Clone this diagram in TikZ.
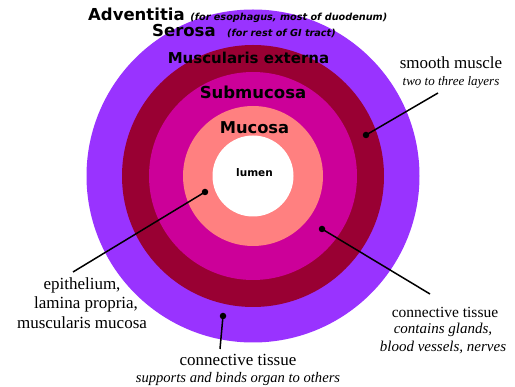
\documentclass[tikz,border=0pt]{standalone}
\usepackage{fontspec}
\setmainfont{Liberation Serif}
\newfontfamily\hdfont{DejaVu Sans}
\definecolor{advcol}{RGB}{153,51,255}
\definecolor{muscol}{RGB}{153,0,51}
\definecolor{subcol}{RGB}{204,0,153}
\definecolor{muccol}{RGB}{255,128,128}
\tikzset{
  lead/.style={line width=1.5pt, black},
  dotmark/.style={circle, fill=black, inner sep=0pt, minimum size=6.5pt},
  layerlabel/.style={inner sep=0pt, font=\hdfont\bfseries},
  serif/.style={inner sep=0pt},
}
\newcommand{\fs}[1]{\fontsize{#1}{#1}\selectfont}
\begin{document}
\begin{tikzpicture}[x=1pt,y=-1pt]
\useasboundingbox[fill=white] (0,0) rectangle (515,387);
\coordinate (C) at (253,176);
\fill[advcol] (C) circle[radius=166.5pt];
\fill[muscol] (C) circle[radius=131pt];
\fill[subcol] (C) circle[radius=104pt];
\fill[muccol] (C) circle[radius=70pt];
\fill[white] (C) circle[radius=40.5pt];

% layer labels
\node[layerlabel, anchor=base west] (adv) at (88,21) {\fs{16.5}Adventitia\ \fs{9.7}\itshape (for esophagus, most of duodenum)};
\node[layerlabel, anchor=base west] (ser) at (152,37) {\fs{16.5}Serosa\ \ \fs{9.7}\itshape (for rest of GI tract)};
\node[layerlabel] (mex) at (248.5,58) {\fs{15}Muscularis externa};
\node[layerlabel] (smc) at (253,92) {\fs{16.5}Submucosa};
\node[layerlabel] (mcs) at (254.5,128) {\fs{16.3}Mucosa};
\node[layerlabel] (lum) at (254.5,173) {\fs{10.5}lumen};

% smooth muscle
\node[serif] (sm1) at (451,63) {\fs{17}smooth muscle};
\node[serif] (sm2) at (451,82) {\fs{13}\itshape two to three layers};
\node[dotmark] (d1) at (366,135) {};
\coordinate (e1) at (438,93);
\draw[lead] (d1.center) -- (e1);

% epithelium
\node[serif] (ep1) at (82,285) {\fs{17}epithelium,};
\node[serif] (ep2) at (86,304) {\fs{17}lamina propria,};
\node[serif] (ep3) at (82,323) {\fs{17}muscularis mucosa};
\node[dotmark] (d2) at (205,192) {};
\coordinate (e2) at (73,272);
\draw[lead] (d2.center) -- (e2);

% connective tissue (submucosa)
\node[serif] (ct1) at (445,312) {\fs{15.5}connective tissue};
\node[serif] (ct2) at (443,330) {\fs{15}\itshape contains glands,};
\node[serif] (ct3) at (443,347) {\fs{15}\itshape blood vessels, nerves};
\node[dotmark] (d3) at (322,229) {};
\coordinate (e3) at (430,294);
\draw[lead] (d3.center) -- (e3);

% connective tissue (outer)
\node[serif] (co1) at (238,360) {\fs{17}connective tissue};
\node[serif] (co2) at (238,379) {\fs{14.6}\itshape supports and binds organ to others};
\node[dotmark] (d4) at (223,316) {};
\coordinate (e4) at (220,349);
\draw[lead] (d4.center) -- (e4);
\end{tikzpicture}
\end{document}
